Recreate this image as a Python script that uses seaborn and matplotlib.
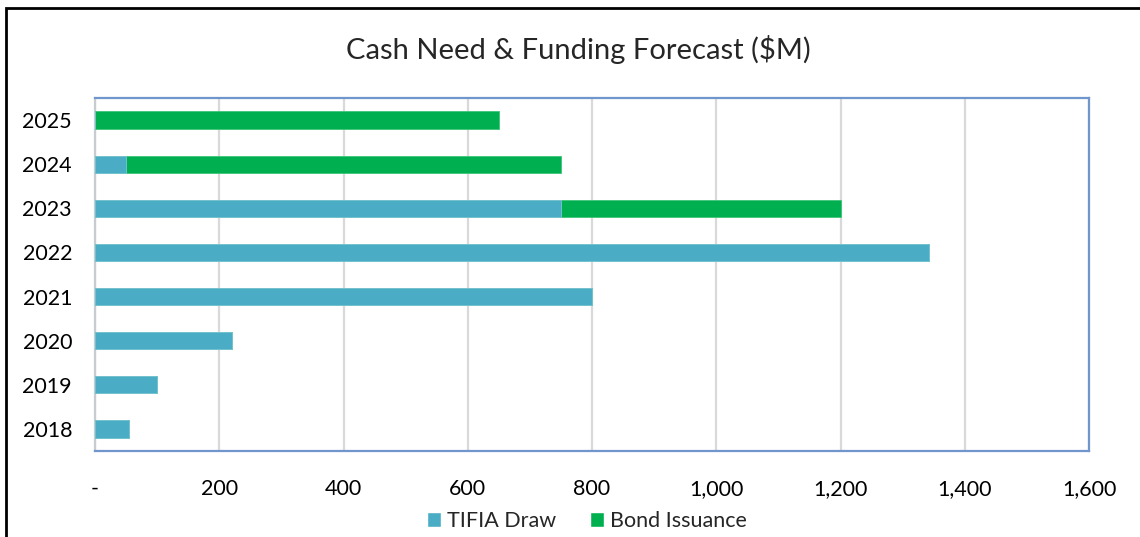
import matplotlib.pyplot as plt
import matplotlib.ticker as mticker
from matplotlib.patches import Patch
import pandas as pd
import seaborn as sns

# chart values ($M)
years = ['2018', '2019', '2020', '2021', '2022', '2023', '2024', '2025']
tifia_draw = [55, 100, 220, 800, 1343, 750, 50, 0]
bond_issuance = [0, 0, 0, 0, 0, 450, 700, 650]
x_ticks = [0, 200, 400, 600, 800, 1000, 1200, 1400, 1600]

TEAL = '#4BACC6'
GREEN = '#00B050'
FRAME = '#6F97CB'

df = pd.DataFrame({'year': years, 'tifia': tifia_draw, 'bond': bond_issuance})
df['total'] = df['tifia'] + df['bond']
order = years[::-1]

sns.set_theme(style='white')
plt.rcParams['font.family'] = ['Lato', 'DejaVu Sans']

fig = plt.figure(figsize=(11.4, 5.37), dpi=100)
ax = fig.add_axes([95 / 1140, 1 - 451 / 537, (1089 - 95) / 1140, (451 - 98) / 537])

# stacked: total in green behind, TIFIA in teal on top
sns.barplot(data=df, x='total', y='year', order=order, color=GREEN,
            width=0.39, orient='h', ax=ax, saturation=1,
            edgecolor='#3fc57a', linewidth=0.6, zorder=3)
sns.barplot(data=df, x='tifia', y='year', order=order, color=TEAL,
            width=0.39, orient='h', ax=ax, saturation=1,
            edgecolor='#7cc4d6', linewidth=0.6, zorder=4)

ax.set_xlim(0, 1600)
ax.set_xticks(x_ticks)
ax.xaxis.set_major_formatter(mticker.FuncFormatter(
    lambda v, p: '-' if v == 0 else f'{v:,.0f}'))
ax.grid(axis='x', color='#d9d9d9', linewidth=1.6, zorder=0)
ax.set_axisbelow(True)
ax.set_xlabel('')
ax.set_ylabel('')
ax.tick_params(axis='x', labelsize=15.5, pad=20, length=0, colors='black')
ax.tick_params(axis='y', labelsize=15.5, pad=16.5, length=0, colors='black')

for side in ['top', 'right', 'bottom']:
    ax.spines[side].set_color(FRAME)
    ax.spines[side].set_linewidth(1.6)
ax.spines['left'].set_color('#c8cbd0')
ax.spines['left'].set_linewidth(1.6)

fig.text(578 / 1140, 1 - 50 / 537, 'Cash Need & Funding Forecast ($M)',
         ha='center', va='center', fontsize=21)

handles = [Patch(facecolor=TEAL, label='TIFIA Draw'),
           Patch(facecolor=GREEN, label='Bond Issuance')]
fig.legend(handles=handles, loc='center', bbox_to_anchor=(587 / 1140, 1 - 521 / 537),
           ncol=2, frameon=False, fontsize=15.5, handlelength=0.65, handleheight=0.65,
           handletextpad=0.25, columnspacing=1.6)

# outer chart border
fig.patches.append(plt.Rectangle((6 / 1140, -0.05), 1.2, 1 - 8 / 537 + 0.05,
                                 transform=fig.transFigure, fill=False,
                                 edgecolor='black', linewidth=2, zorder=10))

fig.savefig('out.png', dpi=100)
